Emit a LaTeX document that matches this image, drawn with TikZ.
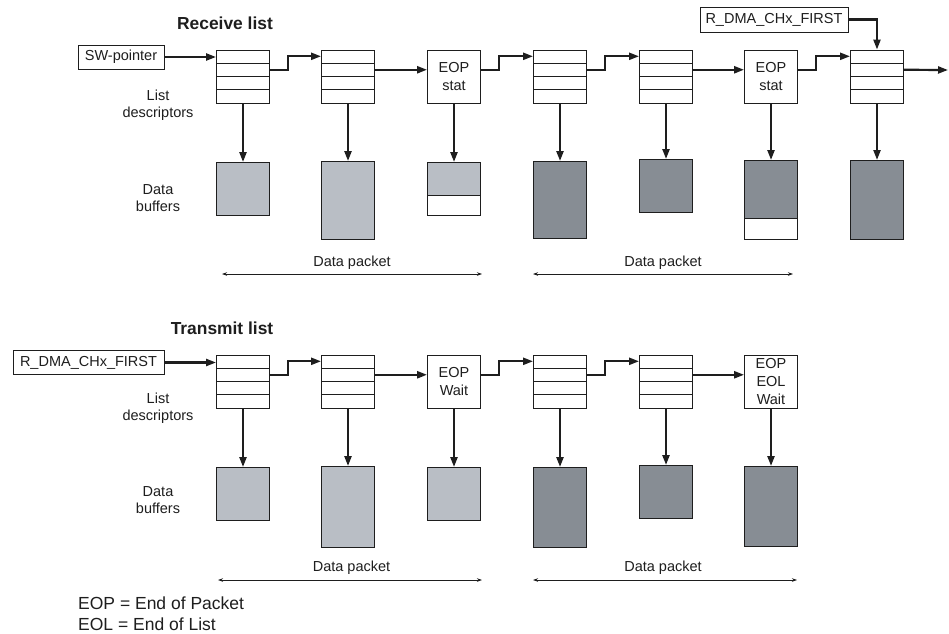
\documentclass[tikz,border=0pt]{standalone}
\usepackage{fontspec}
\setmainfont{Liberation Sans}
\usetikzlibrary{arrows.meta,calc}
\definecolor{bufl}{RGB}{185,190,197}
\definecolor{bufd}{RGB}{135,141,148}
\definecolor{ink}{RGB}{30,30,30}
\tikzset{
  lbl/.style={font=\fontsize{14.5}{17}\selectfont, align=center, inner sep=0pt, text=ink},
  ttl/.style={font=\fontsize{17.4}{20}\selectfont\bfseries, inner sep=0pt, text=ink},
  lgd/.style={font=\fontsize{17.5}{20}\selectfont, inner sep=0pt, anchor=west, text=ink},
  regbox/.style={draw=ink, line width=0.9pt, font=\fontsize{14.5}{17}\selectfont, inner sep=0pt, minimum height=24pt, text=ink},
  descbox/.style={draw=ink, line width=0.9pt, minimum width=53pt, minimum height=53pt, inner sep=0pt,
    path picture={\foreach \f in {0.25,0.5,0.75}{
      \draw[ink, line width=0.9pt] ($(path picture bounding box.north west)!\f!(path picture bounding box.south west)$) -- ($(path picture bounding box.north east)!\f!(path picture bounding box.south east)$);}}},
  eopbox/.style={draw=ink, line width=0.9pt, minimum width=53pt, minimum height=53pt, inner sep=0pt, align=center,
    font=\fontsize{14.5}{18}\selectfont, text=ink},
  bufbox/.style={draw=ink, line width=0.9pt, minimum width=53pt, inner sep=0pt, anchor=north, fill=#1},
  partbuf/.style 2 args={draw=ink, line width=0.9pt, minimum width=53pt, inner sep=0pt, anchor=north, fill=white,
    path picture={\fill[#1] (path picture bounding box.north west) rectangle ($(path picture bounding box.north east)!#2!(path picture bounding box.south east)$);
      \draw[ink, line width=0.9pt] ($(path picture bounding box.north west)!#2!(path picture bounding box.south west)$) -- ($(path picture bounding box.north east)!#2!(path picture bounding box.south east)$);}},
  conn/.style={draw=ink, line width=2.2pt, -{Triangle[length=10pt,width=7pt]}},
  steplink/.style={to path={($(\tikztostart.north east)!0.375!(\tikztostart.south east)$) -- ++(18,0) |- ($(\tikztotarget.north west)!0.125!(\tikztotarget.south west)$)}},
  straightlink/.style={to path={($(\tikztostart.north east)!0.375!(\tikztostart.south east)$) -- ($(\tikztotarget.north west)!0.375!(\tikztotarget.south west)$)}},
  pkt/.style={draw=ink, line width=0.8pt, {Stealth[length=5pt,width=3.5pt]}-{Stealth[length=5pt,width=3.5pt]}}
}
\begin{document}
\begin{tikzpicture}[x=1pt,y=-1pt]
\useasboundingbox[fill=white] (0,0) rectangle (949,633);

% ---------------- Receive list ----------------
\node[ttl] (rtitle) at (225,23) {Receive list};
\node[regbox, minimum width=86pt] (sw) at (121,57) {SW-pointer};
\node[regbox, minimum width=148pt, minimum height=25pt] (rdmaA) at (774,19.5) {R\_DMA\_CHx\_FIRST};

\node[descbox] (d1) at (243,76.5) {};
\node[descbox] (d2) at (348,76.5) {};
\node[eopbox]  (d3) at (454,76.5) {EOP\\stat};
\node[descbox] (d4) at (560,76.5) {};
\node[descbox] (d5) at (666,76.5) {};
\node[eopbox]  (d6) at (771,76.5) {EOP\\stat};
\node[descbox] (d7) at (877,76.5) {};
\coordinate (tend) at (948,70);

\node[lbl] (rld) at (158,105) {List\\descriptors};
\node[lbl] (rdb) at (158,198) {Data\\buffers};

\draw[conn] (sw.east) -- (sw.east -| d1.west);
\draw[conn] (d1) to[steplink] (d2);
\draw[conn] (d2) to[straightlink] (d3);
\draw[conn] (d3) to[steplink] (d4);
\draw[conn] (d4) to[steplink] (d5);
\draw[conn] (d5) to[straightlink] (d6);
\draw[conn] (d6) to[steplink] (d7);
\draw[conn] ($(d7.north east)!0.375!(d7.south east)$) -- (tend);
\draw[conn] (rdmaA.east) -| (d7.north);

\node[bufbox=bufl, minimum height=53pt] (b1) at (243,162) {};
\node[bufbox=bufl, minimum height=78pt] (b2) at (348,161) {};
\node[partbuf={bufl}{0.62}, minimum height=53pt] (b3) at (454,162) {};
\node[bufbox=bufd, minimum height=77pt] (b4) at (560,161) {};
\node[bufbox=bufd, minimum height=53pt] (b5) at (666,159) {};
\node[partbuf={bufd}{0.73}, minimum height=79pt] (b6) at (771,160) {};
\node[bufbox=bufd, minimum height=79pt] (b7) at (877,160) {};

\foreach \i in {1,...,7}{\draw[conn] (d\i.south) -- (b\i.north);}

\coordinate (pa1) at (222,274); \coordinate (pa2) at (482,274);
\coordinate (pb1) at (533,274); \coordinate (pb2) at (793,274);
\draw[pkt] (pa1) -- (pa2);
\draw[pkt] (pb1) -- (pb2);
\node[lbl] (pta) at (352,263) {Data packet};
\node[lbl] (ptb) at (663,263) {Data packet};

% ---------------- Transmit list ----------------
\node[ttl] (ttitle) at (222,328) {Transmit list};
\node[regbox, minimum width=151pt] (rdmaB) at (88.5,362.5) {R\_DMA\_CHx\_FIRST};

\node[descbox] (e1) at (243,381.5) {};
\node[descbox] (e2) at (348,381.5) {};
\node[eopbox]  (e3) at (454,381.5) {EOP\\Wait};
\node[descbox] (e4) at (560,381.5) {};
\node[descbox] (e5) at (666,381.5) {};
\node[eopbox]  (e6) at (771,381.5) {EOP\\EOL\\Wait};

\node[lbl] (tld) at (158,408.5) {List\\descriptors};
\node[lbl] (tdb) at (158,500) {Data\\buffers};

\draw[conn] (rdmaB.east) -- (rdmaB.east -| e1.west);
\draw[conn] (e1) to[steplink] (e2);
\draw[conn] (e2) to[straightlink] (e3);
\draw[conn] (e3) to[steplink] (e4);
\draw[conn] (e4) to[steplink] (e5);
\draw[conn] (e5) to[straightlink] (e6);

\node[bufbox=bufl, minimum height=53pt] (c1) at (243,467) {};
\node[bufbox=bufl, minimum height=81pt] (c2) at (348,466) {};
\node[bufbox=bufl, minimum height=53pt] (c3) at (454,467) {};
\node[bufbox=bufd, minimum height=80pt] (c4) at (560,467) {};
\node[bufbox=bufd, minimum height=53pt] (c5) at (666,465) {};
\node[bufbox=bufd, minimum height=80pt] (c6) at (771,466) {};

\foreach \i in {1,...,6}{\draw[conn] (e\i.south) -- (c\i.north);}

\coordinate (qa1) at (218,580); \coordinate (qa2) at (482,580);
\coordinate (qb1) at (533,580); \coordinate (qb2) at (797,580);
\draw[pkt] (qa1) -- (qa2);
\draw[pkt] (qb1) -- (qb2);
\node[lbl] (qta) at (351.5,568) {Data packet};
\node[lbl] (qtb) at (663,568) {Data packet};

% ---------------- Legend ----------------
\node[lgd] (leg1) at (78,603) {EOP = End of Packet};
\node[lgd] (leg2) at (78,624) {EOL = End of List};
\end{tikzpicture}
\end{document}
